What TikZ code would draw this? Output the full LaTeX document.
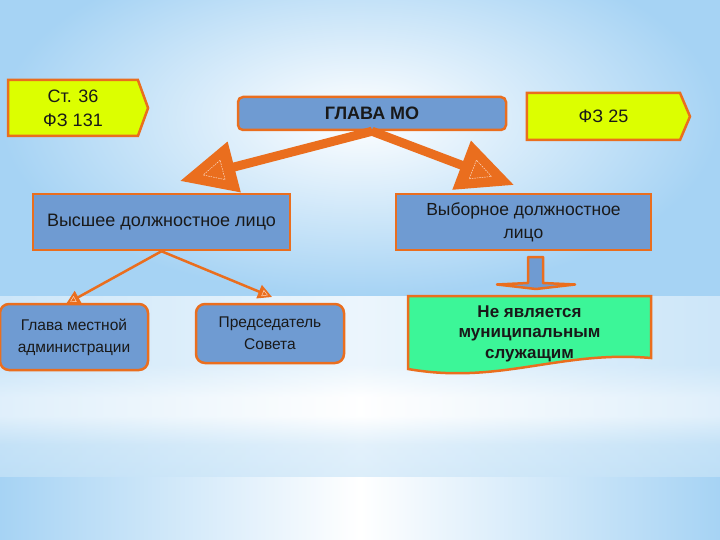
\documentclass[tikz,border=0pt]{standalone}
\usepackage{fontspec}
\setmainfont{Liberation Sans}
\usetikzlibrary{arrows.meta,shapes.symbols,decorations.markings}

\definecolor{lineorange}{RGB}{234,110,30}
\definecolor{boxblue}{RGB}{111,155,210}
\definecolor{lawyellow}{RGB}{220,255,0}
\definecolor{notgreen}{RGB}{60,246,152}
\definecolor{skyblue}{RGB}{166,211,244}
\definecolor{bandA}{RGB}{240,248,254}
\definecolor{bandB}{RGB}{226,241,252}
\definecolor{bandC}{RGB}{212,234,249}
\definecolor{bandD}{RGB}{200,228,248}
\definecolor{bandE}{RGB}{226,242,252}
\definecolor{bandF}{RGB}{250,253,255}
\definecolor{textgray}{RGB}{25,25,25}

\pgfdeclareverticalshading{bandshade}{100bp}{color(0bp)=(bandF); color(2bp)=(bandF);
  color(12bp)=(bandE); color(23bp)=(bandD); color(34bp)=(bandC); color(42bp)=(white);
  color(47bp)=(white); color(56bp)=(bandB); color(76bp)=(bandB); color(100bp)=(bandA)}

\tikzset{
  bluebox/.style={draw=lineorange, line width=2.5pt, fill=boxblue, align=center,
    text=textgray, inner sep=2pt},
  roundbox/.style={bluebox, rounded corners=9pt, font=\fontsize{15.5}{22}\selectfont},
  lawtag/.style={signal, signal to=east, draw=lineorange, line width=2.5pt,
    fill=lawyellow, align=center, text=textgray, font=\fontsize{18}{24}\selectfont},
  bigarrow/.style={draw=lineorange, line width=9pt, -{Triangle[length=56pt,width=50pt]},
    postaction={decorate}, decoration={markings, mark=at position 1 with
    {\draw[white!80!lineorange, line width=0.5pt, dash pattern=on 1.5pt off 1pt]
      (-44pt,-10pt) -- (-24pt,0pt) -- (-44pt,10pt) -- cycle;}}},
  smallarrow/.style={draw=lineorange, line width=2.5pt, -{Triangle[length=14pt,width=14pt]},
    postaction={decorate}, decoration={markings, mark=at position 1 with
    {\draw[white!80!lineorange, line width=0.4pt] (-10pt,-3pt) -- (-5pt,0pt) -- (-10pt,3pt) -- cycle;}}}
}

\begin{document}
\begin{tikzpicture}[x=1pt,y=-1pt]
\useasboundingbox (0,0) rectangle (720,540);
% background
\shade[inner color=white, outer color=skyblue] (0,-60) rectangle (720,296);
\shade[shading=bandshade] (0,296) rectangle (720,477);
\shade[left color=skyblue, right color=skyblue, middle color=white, opacity=0.35] (0,296) rectangle (720,477);
\shade[left color=skyblue, right color=skyblue, middle color=white] (0,477) rectangle (720,540);

\node[lawtag, signal pointer angle=140, minimum width=140pt, minimum height=56pt] (st36) at (73,108) {Ст. 36\\ФЗ 131};
\node[lawtag, signal pointer angle=134, minimum width=163pt, minimum height=47pt] (fz25) at (603.5,116.5) {ФЗ 25};
\node[bluebox, rounded corners=5pt, minimum width=268pt, minimum height=33pt,
  font=\bfseries\fontsize{18}{22}\selectfont] (glava) at (372,113.5) {ГЛАВА МО};

\node[bluebox, minimum width=257pt, minimum height=56pt, font=\fontsize{18}{23}\selectfont] (vys) at (161.5,222) {Высшее должностное лицо};
\node[bluebox, minimum width=255pt, minimum height=56pt, font=\fontsize{17.5}{23}\selectfont] (vyb) at (523.5,222) {Выборное должностное\\лицо};

\coordinate (tipL) at (180,181);
\coordinate (tipR) at (514,185);
\draw[bigarrow] (glava.south) -- (tipL);
\draw[bigarrow] (glava.south) -- (tipR);

\node[roundbox, minimum width=148pt, minimum height=66pt] (glavaAdm) at (74,337) {Глава местной\\администрации};
\node[roundbox, minimum width=148pt, minimum height=59pt] (pred) at (270,333.5) {Председатель\\Совета};

\coordinate (tipGA) at (66,304);
\coordinate (tipPS) at (272,297);
\draw[smallarrow] (vys.south) -- (tipGA);
\draw[smallarrow] (vys.south) -- (tipPS);

% block arrow
\draw[draw=lineorange, line width=2.5pt, fill=boxblue, line join=round]
  (528,257) -- (543,257) -- (543,283) -- (575,284.5) -- (536,289) -- (497,284.5) -- (528,283) -- cycle;

% document shape
\draw[draw=lineorange, line width=2.5pt, fill=notgreen]
  (408,296) -- (651,296) -- (651,358) .. controls (560,350) and (500,385) .. (408,369) -- cycle;
\node[align=center, text=textgray, font=\bfseries\fontsize{17}{20.5}\selectfont] (nemun) at (529.5,333.5) {Не является\\муниципальным\\служащим};
\end{tikzpicture}
\end{document}
